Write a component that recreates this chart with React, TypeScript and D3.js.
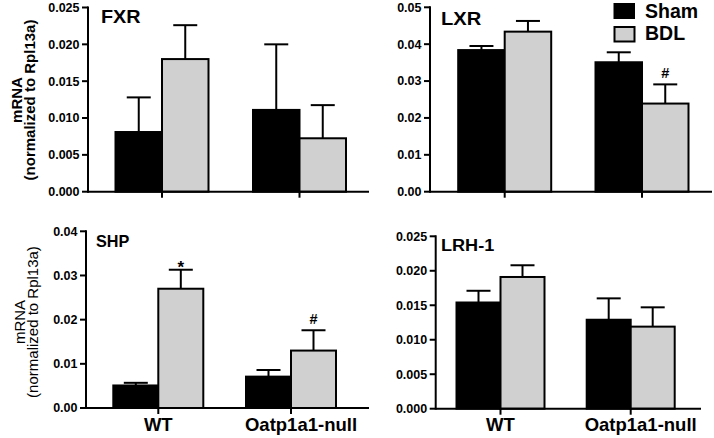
import React from "react";
import * as d3 from "d3";

const groups = ["WT", "Oatp1a1-null"];
const seriesNames = ["Sham", "BDL"];

const fxrSham = [0.0081, 0.0111];
const fxrShamErr = [0.0047, 0.0089];
const fxrBdl = [0.018, 0.00725];
const fxrBdlErr = [0.0046, 0.0045];

const lxrSham = [0.0384, 0.0351];
const lxrShamErr = [0.0011, 0.0027];
const lxrBdl = [0.0434, 0.0239];
const lxrBdlErr = [0.0029, 0.0052];
const lxrBdlMarks = ["", "#"];

const shpSham = [0.0051, 0.0071];
const shpShamErr = [0.0006, 0.0015];
const shpBdl = [0.027, 0.013];
const shpBdlErr = [0.0043, 0.0046];
const shpBdlMarks = ["*", "#"];

const lrhSham = [0.0154, 0.0129];
const lrhShamErr = [0.0017, 0.0031];
const lrhBdl = [0.0191, 0.0119];
const lrhBdlErr = [0.0017, 0.0028];

const yLabel1 = "mRNA";
const yLabel2 = "(normalized to Rpl13a)";

const FONT = "'Liberation Sans', Arial, sans-serif";
const GRAY = "#d0d0d0";

type Panel = {
  title: string;
  titleX: number;
  titleY: number;
  titleSize: number;
  titleSx: number;
  x0: number;
  x1: number;
  yTop: number;
  yBot: number;
  max: number;
  step: number;
  fmt: string;
  c0: number;
  c1: number;
  barW: number;
  sham: number[];
  shamErr: number[];
  bdl: number[];
  bdlErr: number[];
  marks?: string[];
  yLabel?: { bold: boolean; size: number; cy: number; b1: number; b2: number };
  catLabels?: { y: number; shift: number[] };
};

const panels: Panel[] = [
  {
    title: "FXR", titleX: 101, titleY: 22.7, titleSize: 18, titleSx: 1.1,
    x0: 88, x1: 369, yTop: 7.5, yBot: 191.7, max: 0.025, step: 0.005, fmt: ".3f",
    c0: 162, c1: 299.5, barW: 46.5,
    sham: fxrSham, shamErr: fxrShamErr, bdl: fxrBdl, bdlErr: fxrBdlErr,
    yLabel: { bold: true, size: 15, cy: 100, b1: 22, b2: 34.5 },
  },
  {
    title: "LXR", titleX: 441, titleY: 25, titleSize: 17.5, titleSx: 1.15,
    x0: 430, x1: 712, yTop: 7.3, yBot: 191.7, max: 0.05, step: 0.01, fmt: ".2f",
    c0: 504.7, c1: 642, barW: 46.5,
    sham: lxrSham, shamErr: lxrShamErr, bdl: lxrBdl, bdlErr: lxrBdlErr,
    marks: lxrBdlMarks,
  },
  {
    title: "SHP", titleX: 96, titleY: 247.3, titleSize: 16.2, titleSx: 1.0,
    x0: 86, x1: 369, yTop: 231.3, yBot: 408, max: 0.04, step: 0.01, fmt: ".2f",
    c0: 158.3, c1: 291, barW: 45,
    sham: shpSham, shamErr: shpShamErr, bdl: shpBdl, bdlErr: shpBdlErr,
    marks: shpBdlMarks,
    yLabel: { bold: false, size: 15, cy: 322, b1: 25, b2: 37.5 },
    catLabels: { y: 431, shift: [0, 10] },
  },
  {
    title: "LRH-1", titleX: 441, titleY: 251.3, titleSize: 16, titleSx: 1.13,
    x0: 435.7, x1: 701, yTop: 236.3, yBot: 408.7, max: 0.025, step: 0.005, fmt: ".3f",
    c0: 500.5, c1: 630.7, barW: 44,
    sham: lrhSham, shamErr: lrhShamErr, bdl: lrhBdl, bdlErr: lrhBdlErr,
    catLabels: { y: 431, shift: [0, 10] },
  },
];

function PanelView({ p }: { p: Panel }) {
  const y = d3.scaleLinear().domain([0, p.max]).range([p.yBot, p.yTop]);
  const x = d3.scalePoint<string>().domain(groups).range([p.c0, p.c1]);
  const ticks = d3.range(0, p.max + p.step / 2, p.step);
  const f = d3.format(p.fmt);
  const cap = 24;
  const bars: JSX.Element[] = [];
  groups.forEach((g, i) => {
    const cx = x(g) as number;
    const series = [
      { v: p.sham[i], e: p.shamErr[i], fill: "#000", x: cx - p.barW, mark: "" },
      { v: p.bdl[i], e: p.bdlErr[i], fill: GRAY, x: cx, mark: p.marks ? p.marks[i] : "" },
    ];
    series.forEach((s, j) => {
      const bx = s.x + p.barW / 2;
      const top = y(s.v + s.e);
      bars.push(
        <g key={g + j}>
          <line x1={bx} x2={bx} y1={y(s.v)} y2={top} stroke="#000" strokeWidth={2} />
          <line x1={bx - cap / 2} x2={bx + cap / 2} y1={top} y2={top} stroke="#000" strokeWidth={2} />
          <rect x={s.x} y={y(s.v)} width={p.barW} height={p.yBot - y(s.v)} fill={s.fill} stroke="#000" strokeWidth={2} />
          {s.mark ? (
            <text x={bx} y={s.mark === "*" ? top + 3 : top - 6} textAnchor="middle" fontFamily={FONT} fontWeight="bold" fontSize={s.mark === "*" ? 17 : 14.5}>
              {s.mark}
            </text>
          ) : null}
        </g>
      );
    });
  });
  return (
    <g>
      {bars}
      <line x1={p.x0} x2={p.x1} y1={p.yBot} y2={p.yBot} stroke="#000" strokeWidth={2} />
      <line x1={p.x0} x2={p.x0} y1={p.yTop - 1} y2={p.yBot + 1} stroke="#000" strokeWidth={2} />
      {ticks.map((t) => (
        <g key={t}>
          <line x1={p.x0 - 6} x2={p.x0} y1={y(t)} y2={y(t)} stroke="#000" strokeWidth={2} />
          <text x={p.x0 - 8.5} y={y(t) + 4.4} textAnchor="end" fontFamily={FONT} fontWeight="bold" fontSize={12.5}>
            {f(t)}
          </text>
        </g>
      ))}
      {groups.map((g, i) => (
        <g key={g}>
          <line x1={x(g)} x2={x(g)} y1={p.yBot} y2={p.yBot + 6} stroke="#000" strokeWidth={2} />
          {p.catLabels ? (
            <text x={(x(g) as number) + p.catLabels.shift[i]} y={p.catLabels.y} textAnchor="middle" fontFamily={FONT} fontWeight="bold" fontSize={18.5}>
              {g}
            </text>
          ) : null}
        </g>
      ))}
      <text transform={`translate(${p.titleX},${p.titleY}) scale(${p.titleSx},1)`} fontFamily={FONT} fontWeight="bold" fontSize={p.titleSize}>
        {p.title}
      </text>
      {p.yLabel ? (
        <g fontFamily={FONT} fontWeight={p.yLabel.bold ? "bold" : "normal"} fontSize={p.yLabel.size} textAnchor="middle">
          <text transform={`translate(${p.yLabel.b1},${p.yLabel.cy}) rotate(-90)`}>{yLabel1}</text>
          <text transform={`translate(${p.yLabel.b2},${p.yLabel.cy}) rotate(-90)`}>{yLabel2}</text>
        </g>
      ) : null}
    </g>
  );
}

export default function App() {
  return (
    <svg width={714} height={438} style={{ position: "absolute", left: 0, top: 0, background: "#fff" }}>
      <rect width={714} height={438} fill="#fff" />
      {panels.map((p) => (
        <PanelView key={p.title} p={p} />
      ))}
      <g fontFamily={FONT} fontWeight="bold" fontSize={19.5}>
        <rect x={613.5} y={3} width={21.5} height={16} fill="#000" />
        <text x={645} y={17.5}>{seriesNames[0]}</text>
        <rect x={614.5} y={27} width={20} height={14.5} fill={GRAY} stroke="#000" strokeWidth={2} />
        <text x={645} y={39.5}>{seriesNames[1]}</text>
      </g>
    </svg>
  );
}
